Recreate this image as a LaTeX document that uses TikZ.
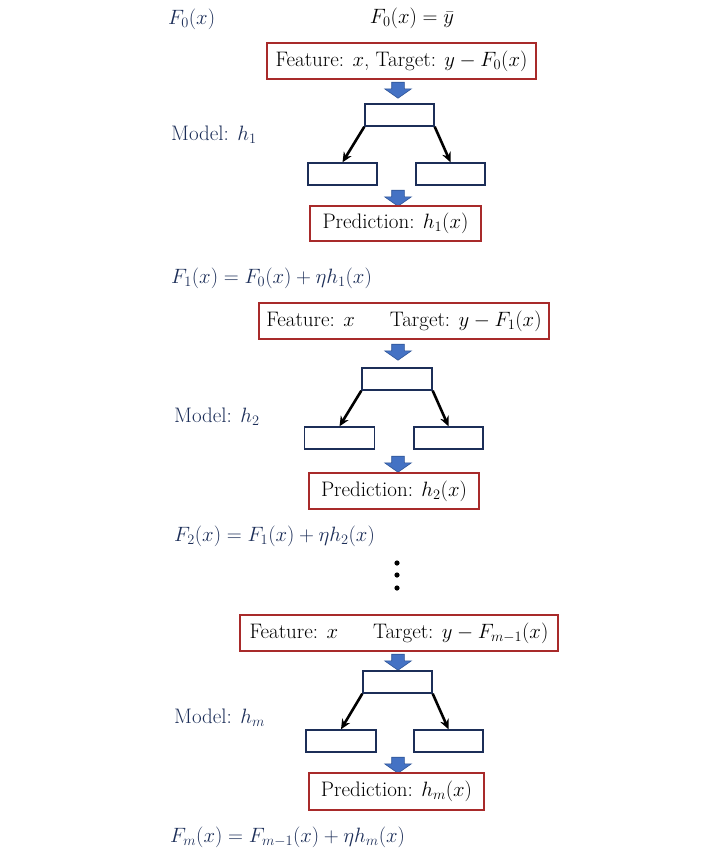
\documentclass[tikz,border=0pt]{standalone}
\usetikzlibrary{shapes.arrows,arrows.meta}
\definecolor{navy}{RGB}{28,46,88}
\definecolor{boxred}{RGB}{168,42,42}
\definecolor{arrowblue}{RGB}{68,114,196}
\definecolor{arrowedge}{RGB}{47,85,151}
\tikzset{
  redbox/.style={draw=boxred,line width=2pt,inner sep=0pt,minimum height=36pt},
  leaf/.style={draw=navy,line width=1.4pt,minimum width=69pt,minimum height=22pt,inner sep=0pt},
  lbl/.style={text=navy,anchor=west,inner sep=0pt},
  blockarrow/.style={single arrow,rotate=-90,fill=arrowblue,draw=arrowedge,line width=0.6pt,
    inner xsep=0pt,inner ysep=6pt,minimum height=16pt,single arrow head extend=7pt,single arrow tip angle=110},
  treearrow/.style={line width=2.6pt,-{Stealth[length=10pt,width=9pt]}}
}
\begin{document}
\begin{tikzpicture}[x=1pt,y=-1pt,font=\fontsize{21}{25}\selectfont]
        \useasboundingbox (0,0) rectangle (720,860);
        \node[lbl] (f0) at (168,19) {$F_0(x)$};
        \node (init) at (412,18) {$F_0(x)=\bar{y}$};
        \node[redbox,minimum width=269pt] (box1) at (401.5,61) {Feature: $x$, Target: $y-F_0(x)$};
        \node[blockarrow] (a11) at (398,88) {};
        \node[leaf] (root1) at (399.5,115) {};
        \node[leaf] (leafL1) at (342.5,174) {};
        \node[leaf] (leafR1) at (450.5,174) {};
        \draw[treearrow] (root1.south west) -- (leafL1.north);
        \draw[treearrow] (root1.south east) -- (leafR1.north);
        \node[blockarrow] (a12) at (398,196) {};
        \node[redbox,minimum width=171pt,minimum height=35pt] (pred1) at (395.5,223.5) {Prediction: $h_1(x)$};
        \node[lbl] (model1) at (171,135) {Model: $h_1$};
        \node[lbl] (upd1) at (171,278) {$F_1(x)=F_0(x)+\eta h_1(x)$};
        \node[redbox,minimum width=290pt] (box2) at (404,321) {Feature: $x$\hspace{35pt}Target: $y-F_1(x)$};
        \node[blockarrow] (a21) at (398,350) {};
        \node[leaf,minimum width=70pt] (root2) at (397,379) {};
        \node[leaf,minimum width=70pt] (leafL2) at (339.5,438) {};
        \node[leaf] (leafR2) at (448.5,438) {};
        \draw[treearrow] (root2.south west) -- (leafL2.north);
        \draw[treearrow] (root2.south east) -- (leafR2.north);
        \node[blockarrow] (a22) at (398,462) {};
        \node[redbox,minimum width=170pt] (pred2) at (394,491) {Prediction: $h_2(x)$};
        \node[lbl] (model2) at (174,417) {Model: $h_2$};
        \node[lbl] (upd2) at (174,536) {$F_2(x)=F_1(x)+\eta h_2(x)$};
        \foreach \d in {563,575,588}
          \fill (397,\d) circle (2.6pt);
        \node[redbox,minimum width=318pt] (box3) at (399,633) {Feature: $x$\hspace{35pt}Target: $y-F_{m-1}(x)$};
        \node[blockarrow] (a31) at (398,660) {};
        \node[leaf] (root3) at (397.5,682) {};
        \node[leaf,minimum width=70pt] (leafL3) at (341,741) {};
        \node[leaf] (leafR3) at (448.5,741) {};
        \draw[treearrow] (root3.south west) -- (leafL3.north);
        \draw[treearrow] (root3.south east) -- (leafR3.north);
        \node[blockarrow] (a32) at (398,763) {};
        \node[redbox,minimum width=175pt,minimum height=37pt] (pred3) at (396.5,791.5) {Prediction: $h_m(x)$};
        \node[lbl] (model3) at (174,718) {Model: $h_m$};
        \node[lbl] (upd3) at (170,837) {$F_m(x)=F_{m-1}(x)+\eta h_m(x)$};
        \end{tikzpicture}
\end{document}
